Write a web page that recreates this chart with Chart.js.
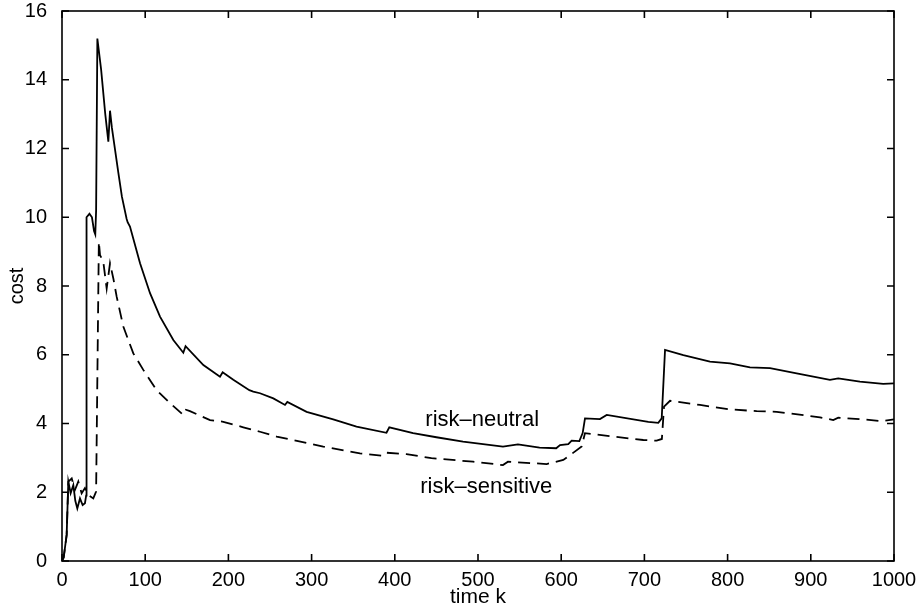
<!DOCTYPE html>
<html>
<head>
<meta charset="utf-8">
<script src="https://cdn.jsdelivr.net/npm/chart.js@4.4.1/dist/chart.umd.min.js"></script>
<style>
  html, body { margin: 0; padding: 0; background: #fff; }
  #wrap { width: 923px; height: 608px; position: relative; }
</style>
</head>
<body>
<div id="wrap"><canvas id="myChart"></canvas></div>
<script>
// values
const neutralK = [0, 2, 5.6, 7.6, 10.4, 13.6, 16, 18.4, 21.6, 24.8, 27.6, 29, 29.5, 33, 36, 38.5, 40, 41, 42.5, 47, 52, 55.7, 57.7, 60, 67.7, 72, 77.7, 79, 81.7, 93.8, 105.8, 117.8, 133.8, 145.8, 148.5, 169.9, 189.9, 193.1, 205.9, 225.2, 229.9, 238, 254, 268, 270.8, 294, 326, 354, 390, 393.4, 422, 450, 482, 530, 548, 574, 594, 598.6, 608.5, 612.6, 621.8, 625.8, 628.6, 646.6, 654.7, 704.7, 716.7, 720.8, 724.8, 746.8, 778.8, 802.9, 826.9, 851, 883, 923, 933, 959, 987, 1000];
const neutralCost = [0, 0.1, 0.76, 2.31, 1.97, 2.21, 1.75, 1.53, 1.82, 1.63, 1.68, 1.9, 10.0, 10.1, 10.0, 9.6, 9.5, 10.2, 15.2, 14.3, 13.0, 12.2, 13.1, 12.6, 11.3, 10.6, 9.95, 9.85, 9.73, 8.66, 7.79, 7.11, 6.43, 6.06, 6.25, 5.70, 5.36, 5.49, 5.27, 4.97, 4.93, 4.88, 4.73, 4.54, 4.63, 4.34, 4.12, 3.91, 3.73, 3.89, 3.72, 3.60, 3.47, 3.33, 3.39, 3.30, 3.28, 3.37, 3.40, 3.50, 3.49, 3.72, 4.15, 4.13, 4.25, 4.05, 4.02, 4.15, 6.14, 5.99, 5.80, 5.75, 5.63, 5.61, 5.46, 5.27, 5.31, 5.22, 5.15, 5.17];

const sensitiveK = [0, 2, 5.6, 7.6, 11.7, 15.6, 19.6, 23.6, 27.6, 31.6, 37.6, 41, 44.3, 45.7, 49.6, 53.7, 57.7, 61.7, 65.7, 73.7, 85.7, 97.7, 113.8, 129.8, 145.8, 149, 153.8, 177.9, 193.9, 217.9, 238, 258, 314, 358, 386, 390, 414, 444, 494, 530, 536, 582.5, 602.5, 610.6, 624.6, 628.6, 662.6, 698.7, 714.7, 721, 723.6, 730.8, 766.8, 803, 835, 859, 911, 927, 933, 963, 985, 1000];
const sensitiveCost = [0, 0.1, 0.76, 2.31, 2.4, 2.07, 2.31, 1.97, 2.12, 1.92, 1.82, 2.02, 9.29, 8.9, 8.71, 7.93, 8.66, 8.22, 7.69, 6.82, 6.04, 5.56, 4.97, 4.59, 4.25, 4.4, 4.36, 4.10, 4.05, 3.89, 3.76, 3.62, 3.33, 3.13, 3.06, 3.15, 3.11, 2.99, 2.89, 2.79, 2.89, 2.82, 2.94, 3.08, 3.33, 3.72, 3.62, 3.52, 3.50, 3.55, 4.49, 4.66, 4.54, 4.41, 4.36, 4.34, 4.18, 4.10, 4.17, 4.12, 4.07, 4.12];

const xTicks = [0, 100, 200, 300, 400, 500, 600, 700, 800, 900, 1000];
const yTicks = [0, 2, 4, 6, 8, 10, 12, 14, 16];

// text labels inside the plot, in data coordinates
const curveLabels = [
    { text: 'risk\u2013neutral', k: 505, cost: 4.1 },
    { text: 'risk\u2013sensitive', k: 510, cost: 2.15 }
];

const FONT = '"Liberation Sans", Arial, Helvetica, sans-serif';

function toPoints(ks, vs) {
    return ks.map((k, i) => ({ x: k, y: vs[i] }));
}

// frame, inward ticks on all four sides, and curve labels
const framePlugin = {
    id: 'frame',
    afterDatasetsDraw(chart) {
        const ctx = chart.ctx;
        const a = chart.chartArea;
        const xs = chart.scales.x, ys = chart.scales.y;
        const tl = 7;
        ctx.save();
        ctx.strokeStyle = '#000';
        ctx.lineWidth = 1.6;
        ctx.strokeRect(a.left, a.top, a.right - a.left, a.bottom - a.top);
        ctx.beginPath();
        xTicks.forEach(v => {
            const px = xs.getPixelForValue(v);
            ctx.moveTo(px, a.bottom); ctx.lineTo(px, a.bottom - tl);
            ctx.moveTo(px, a.top); ctx.lineTo(px, a.top + tl);
        });
        yTicks.forEach(v => {
            const py = ys.getPixelForValue(v);
            ctx.moveTo(a.left, py); ctx.lineTo(a.left + tl, py);
            ctx.moveTo(a.right, py); ctx.lineTo(a.right - tl, py);
        });
        ctx.stroke();

        ctx.fillStyle = '#000';
        ctx.font = '22px ' + FONT;
        ctx.textAlign = 'center';
        ctx.textBaseline = 'middle';
        curveLabels.forEach(l => {
            ctx.fillText(l.text, xs.getPixelForValue(l.k), ys.getPixelForValue(l.cost));
        });
        ctx.restore();
    }
};

const ctx = document.getElementById('myChart').getContext('2d');
new Chart(ctx, {
    type: 'line',
    data: {
        datasets: [{
            label: 'risk-neutral',
            data: toPoints(neutralK, neutralCost),
            borderColor: '#000',
            borderWidth: 1.8,
            pointRadius: 0,
            tension: 0,
            fill: false
        }, {
            label: 'risk-sensitive',
            data: toPoints(sensitiveK, sensitiveCost),
            borderColor: '#000',
            borderWidth: 1.8,
            borderDash: [12, 7],
            pointRadius: 0,
            tension: 0,
            fill: false
        }]
    },
    options: {
        responsive: true,
        maintainAspectRatio: false,
        animation: false,
        layout: { padding: { top: 11, right: 29, left: 0, bottom: 0 } },
        plugins: {
            legend: { display: false },
            tooltip: { enabled: false }
        },
        scales: {
            x: {
                type: 'linear',
                min: 0,
                max: 1000,
                grid: { display: false },
                border: { display: false },
                afterFit(scale) {
                    scale.height = 47;
                    scale.paddingLeft = 0;
                    scale.paddingRight = 0;
                },
                afterBuildTicks(scale) { scale.ticks = xTicks.map(v => ({ value: v })); },
                ticks: {
                    color: '#000',
                    padding: 1,
                    maxRotation: 0,
                    callback: v => String(v),
                    font: { family: FONT, size: 20, lineHeight: 1 }
                },
                title: {
                    display: true,
                    text: 'time k',
                    color: '#000',
                    padding: { top: 0, bottom: 0 },
                    font: { family: FONT, size: 21, lineHeight: 1 }
                }
            },
            y: {
                type: 'linear',
                min: 0,
                max: 16,
                grid: { display: false },
                border: { display: false },
                afterFit(scale) {
                    scale.width = 62;
                    scale.paddingTop = 0;
                    scale.paddingBottom = 0;
                },
                afterBuildTicks(scale) { scale.ticks = yTicks.map(v => ({ value: v })); },
                ticks: {
                    color: '#000',
                    padding: 7,
                    callback: v => String(v),
                    font: { family: FONT, size: 20, lineHeight: 1 }
                },
                title: {
                    display: true,
                    text: 'cost',
                    color: '#000',
                    padding: { top: 5, bottom: 0 },
                    font: { family: FONT, size: 20 }
                }
            }
        }
    },
    plugins: [framePlugin]
});
</script>
</body>
</html>
